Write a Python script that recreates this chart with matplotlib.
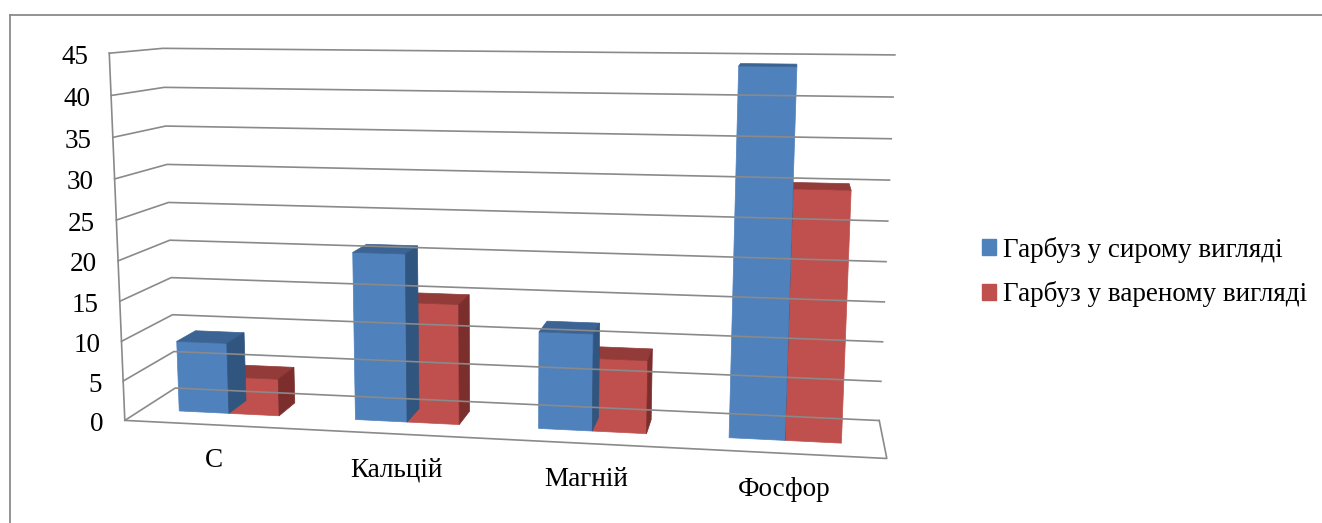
import matplotlib.pyplot as plt
import numpy as np
from matplotlib.patches import Polygon, Patch

# pumpkin minerals / vitamin C, mg per 100 g
categories = ['С', 'Кальцій', 'Магній', 'Фосфор']
raw = [9, 21, 12, 44]
boiled = [4.7, 15, 9, 30]
series_names = ['Гарбуз у сирому вигляді', 'Гарбуз у вареному вигляді']
y_ticks = [0, 5, 10, 15, 20, 25, 30, 35, 40, 45]

W, H = 1322, 523
YMAX = 45

# 3d frame -> screen pixels: (category, value, depth) anchors of the box
frame_world = np.array([
    [0, 0, 0], [0, 45, 0], [0, 0, 1], [0, 45, 1],
    [4, 0, 1], [4, 45, 1], [4, 0, 0], [0, 20, 1],
    [0, 20, 0], [4, 40, 1],
], dtype=float)
frame_px = np.array([
    [124, 420], [108, 54], [175, 389], [163, 48],
    [879, 420], [895, 55], [887, 459], [170, 240],
    [120, 260], [893, 97],
], dtype=float)


def fit_projection(world, px):
    rows = []
    for (X, Y, Z), (u, v) in zip(world, px):
        p = [X, Y, Z, 1.0]
        rows.append(p + [0, 0, 0, 0] + [-u * c for c in p])
        rows.append([0, 0, 0, 0] + p + [-v * c for c in p])
    _, _, vt = np.linalg.svd(np.array(rows))
    return vt[-1].reshape(3, 4)


P = fit_projection(frame_world, frame_px)
_, _, vt = np.linalg.svd(P)
cam = vt[-1][:3] / vt[-1][3]


def proj(X, Y, Z):
    h = P @ np.array([X, Y, Z, 1.0])
    return h[0] / h[2], h[1] / h[2]


fig = plt.figure(figsize=(W / 100, H / 100), dpi=100)
ax = fig.add_axes([0, 0, 1, 1])
ax.set_xlim(0, W)
ax.set_ylim(H, 0)
ax.axis('off')

grid_c = '#8a8a8a'
font = 'Liberation Serif'
fs = 19.5

# outer chart border
ax.plot([10, W], [15, 15], color='#8a8a8a', lw=1.3)
ax.plot([10, 10], [15, H], color='#8a8a8a', lw=1.3)

ncat = len(categories)
# gridlines on side wall and back wall
for t in y_ticks:
    pts = [proj(0, t, 0), proj(0, t, 1), proj(ncat, t, 1)]
    ax.plot([p[0] for p in pts], [p[1] for p in pts], color=grid_c, lw=1.2,
            solid_joinstyle='miter')
    x, y = proj(0, t, 0)
    ax.text(x - 21, y + 4, str(t), ha='right', va='center', fontsize=fs,
            family=font)

# vertical axis and floor outline
pts = [proj(0, YMAX, 0), proj(0, 0, 0), proj(ncat, 0, 0), proj(ncat, 0, 1)]
ax.plot([p[0] for p in pts], [p[1] for p in pts], color=grid_c, lw=1.2)

for i, name in enumerate(categories):
    x, y = proj(i + 0.5, 0, 0)
    ax.text(x, y + 36, name, ha='center', va='center', fontsize=fs,
            family=font)

# bar geometry
bw = 1 / 3.5
gap = 0.75 / 3.5
z0, z1 = 0.33, 0.72
styles = [
    ('#4f81bd', '#3b6494', '#30557f'),
    ('#c0504d', '#923b39', '#7b2e2c'),
]

boxes = []
for s, vals in enumerate([raw, boiled]):
    for i, v in enumerate(vals):
        x0 = i + gap + s * bw
        boxes.append((x0, x0 + bw, v, styles[s]))


def dist(b):
    c = np.array([(b[0] + b[1]) / 2, b[2] / 2, (z0 + z1) / 2])
    return np.linalg.norm(c - cam)


for x0, x1, h, (front, top, side) in sorted(boxes, key=dist, reverse=True):
    faces = [
        ([(x0, 0, z0), (x1, 0, z0), (x1, h, z0), (x0, h, z0)], (0, 0, -1), front),
        ([(x0, h, z0), (x1, h, z0), (x1, h, z1), (x0, h, z1)], (0, 1, 0), top),
        ([(x1, 0, z0), (x1, 0, z1), (x1, h, z1), (x1, h, z0)], (1, 0, 0), side),
        ([(x0, 0, z0), (x0, 0, z1), (x0, h, z1), (x0, h, z0)], (-1, 0, 0), side),
    ]
    for corners, n, col in faces:
        if np.dot(cam - np.array(corners[0]), n) <= 0:
            continue
        poly = [proj(*c) for c in corners]
        ax.add_patch(Polygon(poly, closed=True, facecolor=col,
                             edgecolor=col, lw=0.5))

handles = [Patch(facecolor=styles[k][0], edgecolor=styles[k][0])
           for k in range(2)]
ax.legend(handles, series_names, loc='center left',
          bbox_to_anchor=(982, 272), bbox_transform=ax.transData,
          frameon=False, borderpad=0, borderaxespad=0,
          handlelength=0.5, handleheight=0.5, handletextpad=0.27,
          labelspacing=0.7, prop={'family': font, 'size': fs})

fig.savefig('out.png', dpi=100)
